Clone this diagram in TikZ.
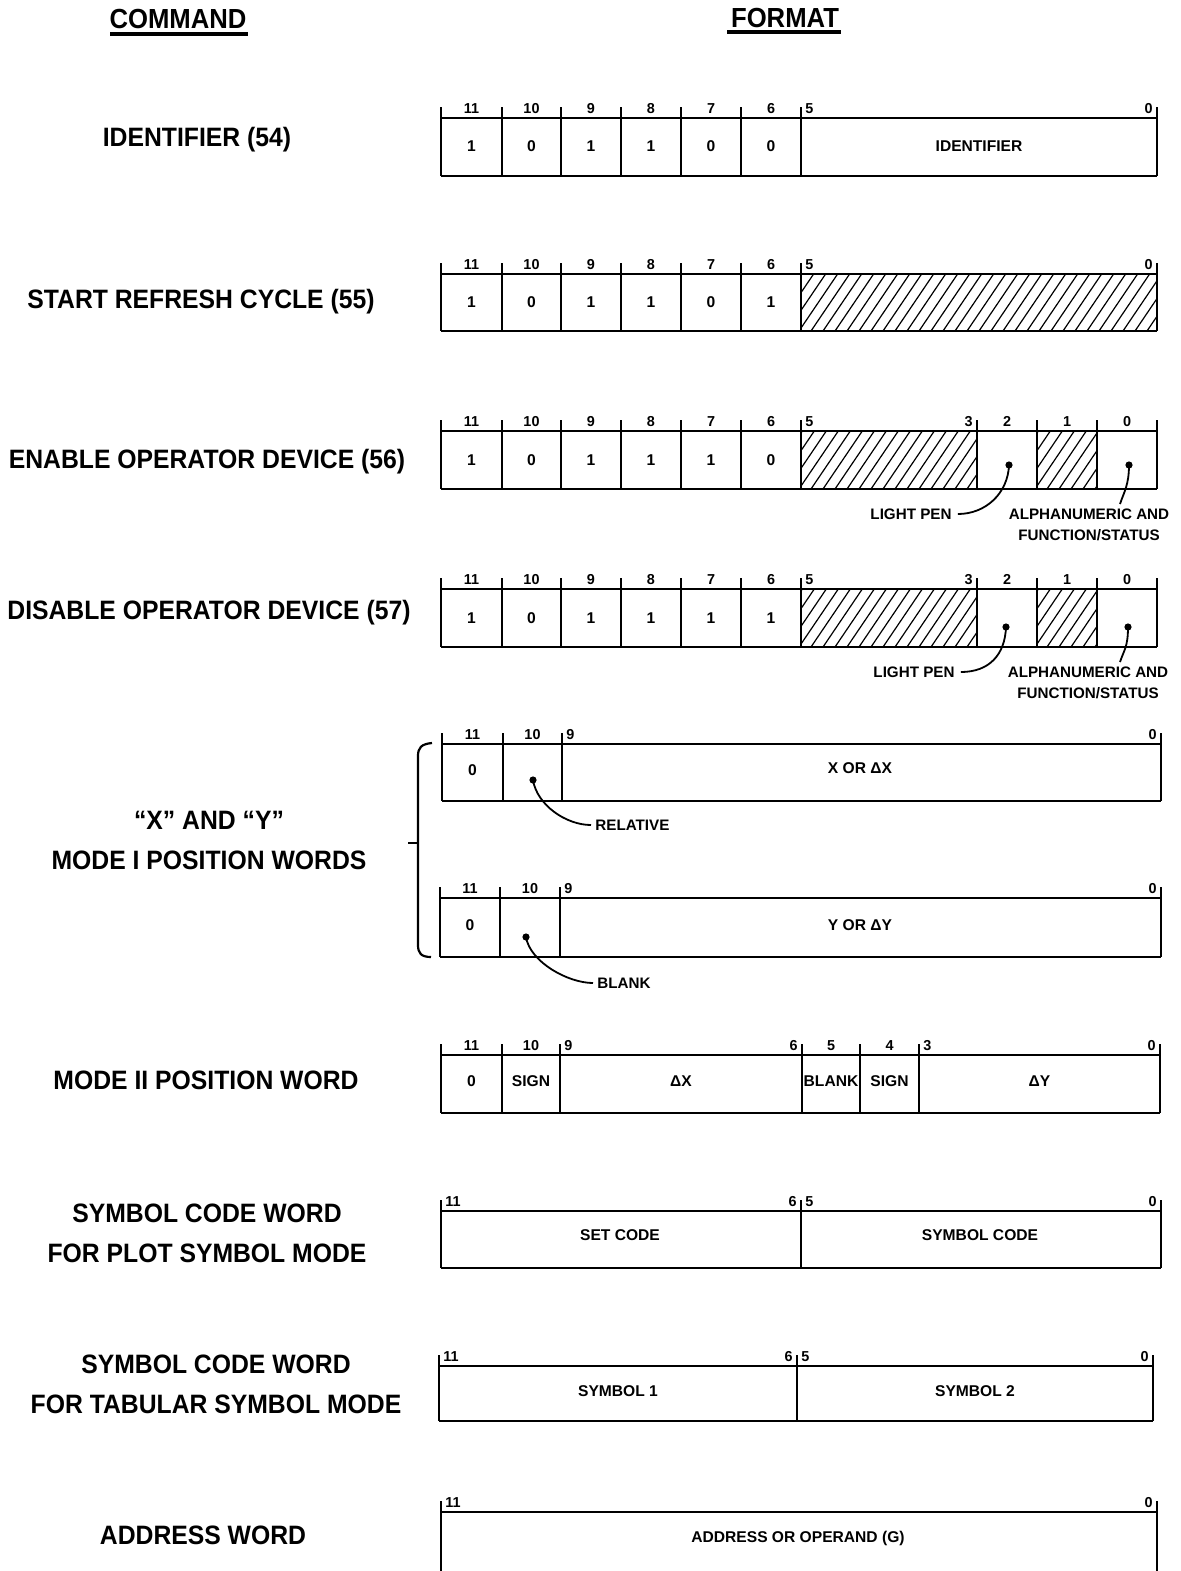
\documentclass[tikz,border=0pt]{standalone}
\usepackage{fontspec}
\setmainfont{Liberation Sans}
\newfontfamily\condfont[FakeStretch=0.93]{Liberation Sans}
\tikzset{
 reg/.style={line width=1.1pt},
 hatchln/.style={line width=0.6pt},
 uline/.style={line width=1.6pt},
 cmdlab/.style={font=\condfont\bfseries\fontsize{13.3}{20}\selectfont, inner sep=0pt, align=center},
 hdr/.style={font=\condfont\bfseries\fontsize{13.8}{16}\selectfont, inner sep=0pt},
 bitn/.style={font=\bfseries\fontsize{7.2}{8}\selectfont, inner sep=0pt, text height=5.2pt, text depth=0pt},
 cellv/.style={font=\bfseries\fontsize{7.8}{9}\selectfont, inner sep=0pt},
 note/.style={font=\bfseries\fontsize{7.6}{10.5}\selectfont, inner sep=0pt, align=center},
 pin/.style={circle, fill, inner sep=0pt, minimum size=3.6pt},
 lead/.style={line width=0.9pt},
}
% horizontal lines of a register: top, bottom, left, right
\newcommand{\frameh}[4]{\draw[reg] (#3,#1) -- (#4,#1) (#3,#2) -- (#4,#2);}
% vertical dividers with ticks: top, bottom, list
\newcommand{\framev}[3]{\foreach \x in {#3} \draw[reg] (\x,#1-11) -- (\x,#2);}
% hatch: x1, top, x2, bottom
\newcommand{\hatch}[4]{\begin{scope}\clip (#1,#2) rectangle (#3,#4);
\foreach \i in {0,...,34}{\draw[hatchln] ({#1-50+12*\i},#4) -- ++(42,-62);}\end{scope}}
\begin{document}
\begin{tikzpicture}[x=0.5pt,y=-0.5pt]
\useasboundingbox (0,0) rectangle (1181,1571);

% headers
\node[hdr] (hcmd) at (178,19) {COMMAND};
\draw[uline] (110,34) -- (248,34);
\node[hdr] (hfmt) at (785,18) {FORMAT};
\draw[uline] (727,32) -- (841,32);

% command labels
\node[cmdlab] (c1) at (197,140) {IDENTIFIER (54)};
\node[cmdlab] (c2) at (201,302) {START REFRESH CYCLE (55)};
\node[cmdlab] (c3) at (207,462) {ENABLE OPERATOR DEVICE (56)};
\node[cmdlab] (c4) at (209,613) {DISABLE OPERATOR DEVICE (57)};
\node[cmdlab] (c5) at (209,840) {“X” AND “Y”\\MODE I POSITION WORDS};
\node[cmdlab] (c6) at (206,1080) {MODE II POSITION WORD};
\node[cmdlab] (c7) at (207,1233) {SYMBOL CODE WORD\\FOR PLOT SYMBOL MODE};
\node[cmdlab] (c8) at (216,1384) {SYMBOL CODE WORD\\FOR TABULAR SYMBOL MODE};
\node[cmdlab] (c9) at (203,1535) {ADDRESS WORD};

% ---------- Row A : IDENTIFIER
\frameh{118}{176}{441}{1157}
\framev{118}{176}{441,502,561,621,681,741,801,1157}
\foreach \x/\v [count=\n] in {471.5/1,531.5/0,591/1,651/1,711/0,771/0}
  \node[cellv] (Av\n) at (\x,146) {\v};
\foreach \x/\v [count=\n] in {471.5/11,531.5/10,591/9,651/8,711/7,771/6}
  \node[bitn] (Ab\n) at (\x,108) {\v};
\node[bitn,anchor=west] (Ab7) at (805,108) {5};
\node[bitn,anchor=east] (Ab8) at (1153,108) {0};
\node[cellv] (Af) at (979,146) {IDENTIFIER};

% ---------- Row B : START REFRESH
\hatch{801}{274}{1157}{331}
\frameh{274}{331}{441}{1157}
\framev{274}{331}{441,502,561,621,681,741,801,1157}
\foreach \x/\v [count=\n] in {471.5/1,531.5/0,591/1,651/1,711/0,771/1}
  \node[cellv] (Bv\n) at (\x,302) {\v};
\foreach \x/\v [count=\n] in {471.5/11,531.5/10,591/9,651/8,711/7,771/6}
  \node[bitn] (Bb\n) at (\x,264) {\v};
\node[bitn,anchor=west] (Bb7) at (805,264) {5};
\node[bitn,anchor=east] (Bb8) at (1153,264) {0};

% ---------- Row C : ENABLE
\hatch{801}{431}{977}{489}
\hatch{1037}{431}{1097}{489}
\frameh{431}{489}{441}{1157}
\framev{431}{489}{441,502,561,621,681,741,801,977,1037,1097,1157}
\foreach \x/\v [count=\n] in {471.5/1,531.5/0,591/1,651/1,711/1,771/0}
  \node[cellv] (Cv\n) at (\x,460) {\v};
\foreach \x/\v [count=\n] in {471.5/11,531.5/10,591/9,651/8,711/7,771/6,1007/2,1067/1,1127/0}
  \node[bitn] (Cb\n) at (\x,421) {\v};
\node[bitn,anchor=west] (Cb10) at (805,421) {5};
\node[bitn,anchor=east] (Cb11) at (973,421) {3};
\node[pin] (Cp2) at (1009,465) {};
\node[pin] (Cp0) at (1129,465) {};
\node[note] (Clp) at (911,514) {LIGHT PEN};
\node[note] (Cal) at (1089,524.5) {ALPHANUMERIC AND\\FUNCTION/STATUS};
\coordinate (Cae) at (1120,504);
\draw[lead] (Cp2.center) .. controls +(-1,28) and +(28,0) .. ([xshift=3pt]Clp.east);
\draw[lead] (Cp0.center) .. controls +(0,20) and +(4,-12) .. (Cae);

% ---------- Row D : DISABLE
\hatch{801}{589}{977}{647}
\hatch{1037}{589}{1097}{647}
\frameh{589}{647}{441}{1157}
\framev{589}{647}{441,502,561,621,681,741,801,977,1037,1097,1157}
\foreach \x/\v [count=\n] in {471.5/1,531.5/0,591/1,651/1,711/1,771/1}
  \node[cellv] (Dv\n) at (\x,618) {\v};
\foreach \x/\v [count=\n] in {471.5/11,531.5/10,591/9,651/8,711/7,771/6,1007/2,1067/1,1127/0}
  \node[bitn] (Db\n) at (\x,579) {\v};
\node[bitn,anchor=west] (Db10) at (805,579) {5};
\node[bitn,anchor=east] (Db11) at (973,579) {3};
\node[pin] (Dp2) at (1006,627) {};
\node[pin] (Dp0) at (1128,627) {};
\node[note] (Dlp) at (914,672) {LIGHT PEN};
\node[note] (Dal) at (1088,682.5) {ALPHANUMERIC AND\\FUNCTION/STATUS};
\coordinate (Dae) at (1120,662);
\draw[lead] (Dp2.center) .. controls +(-1,28) and +(28,0) .. ([xshift=3pt]Dlp.east);
\draw[lead] (Dp0.center) .. controls +(0,20) and +(4,-12) .. (Dae);

% ---------- Row E : X
\frameh{744}{801}{442}{1161}
\framev{744}{801}{442,503,562,1161}
\node[cellv] (Ev1) at (472.5,770) {0};
\node[cellv] (Ef) at (860,768) {X OR ΔX};
\node[bitn] (Eb1) at (472.5,734) {11};
\node[bitn] (Eb2) at (532.5,734) {10};
\node[bitn,anchor=west] (Eb3) at (566,734) {9};
\node[bitn,anchor=east] (Eb4) at (1157,734) {0};
\node[pin] (Ep) at (533,780) {};
\node[note,anchor=west] (Erel) at (595,825) {RELATIVE};
\draw[lead] (Ep.center) .. controls +(4,25) and +(-25,0) .. ([xshift=-2pt]Erel.west);

% ---------- Row F : Y
\frameh{898}{957}{440}{1161}
\framev{898}{957}{440,500,560,1161}
\node[cellv] (Fv1) at (470,925) {0};
\node[cellv] (Ff) at (860,925) {Y OR ΔY};
\node[bitn] (Fb1) at (470,888) {11};
\node[bitn] (Fb2) at (530,888) {10};
\node[bitn,anchor=west] (Fb3) at (564,888) {9};
\node[bitn,anchor=east] (Fb4) at (1157,888) {0};
\node[pin] (Fp) at (526,937) {};
\node[note,anchor=west] (Fbl) at (597,983) {BLANK};
\draw[lead] (Fp.center) .. controls +(4,25) and +(-25,0) .. ([xshift=-2pt]Fbl.west);

% brace
\draw[reg] (432,743) .. controls (421,744) and (418,748) .. (418,756) -- (418,945)
  .. controls (418,953) and (421,957) .. (431,957);
\draw[reg] (408,843) -- (418,843);

% ---------- Row G : MODE II
\frameh{1055}{1113}{441}{1160}
\framev{1055}{1113}{441,502,560,802,860,919,1160}
\foreach \x/\v [count=\n] in {471.5/0,531/SIGN,681/ΔX,831/BLANK,889.5/SIGN,1039.5/ΔY}
  \node[cellv] (Gv\n) at (\x,1081) {\v};
\node[bitn] (Gb1) at (471.5,1045) {11};
\node[bitn] (Gb2) at (531,1045) {10};
\node[bitn,anchor=west] (Gb3) at (564,1045) {9};
\node[bitn,anchor=east] (Gb4) at (798,1045) {6};
\node[bitn] (Gb5) at (831,1045) {5};
\node[bitn] (Gb6) at (889.5,1045) {4};
\node[bitn,anchor=west] (Gb7) at (923,1045) {3};
\node[bitn,anchor=east] (Gb8) at (1156,1045) {0};

% ---------- Row H : plot symbol
\frameh{1211}{1268}{441}{1161}
\framev{1211}{1268}{441,801,1161}
\node[cellv] (Hv1) at (620,1235) {SET CODE};
\node[cellv] (Hv2) at (980,1235) {SYMBOL CODE};
\node[bitn,anchor=west] (Hb1) at (445,1201) {11};
\node[bitn,anchor=east] (Hb2) at (797,1201) {6};
\node[bitn,anchor=west] (Hb3) at (805,1201) {5};
\node[bitn,anchor=east] (Hb4) at (1157,1201) {0};

% ---------- Row I : tabular symbol
\frameh{1366}{1421}{439}{1153}
\framev{1366}{1421}{439,797,1153}
\node[cellv] (Iv1) at (618,1391) {SYMBOL 1};
\node[cellv] (Iv2) at (975,1391) {SYMBOL 2};
\node[bitn,anchor=west] (Ib1) at (443,1356) {11};
\node[bitn,anchor=east] (Ib2) at (793,1356) {6};
\node[bitn,anchor=west] (Ib3) at (801,1356) {5};
\node[bitn,anchor=east] (Ib4) at (1149,1356) {0};

% ---------- Row J : address
\draw[reg] (441,1512) -- (1157,1512);
\framev{1512}{1571}{441,1157}
\node[cellv] (Jv1) at (798,1538) {ADDRESS OR OPERAND (G)};
\node[bitn,anchor=west] (Jb1) at (445,1502) {11};
\node[bitn,anchor=east] (Jb2) at (1153,1502) {0};
\end{tikzpicture}
\end{document}
